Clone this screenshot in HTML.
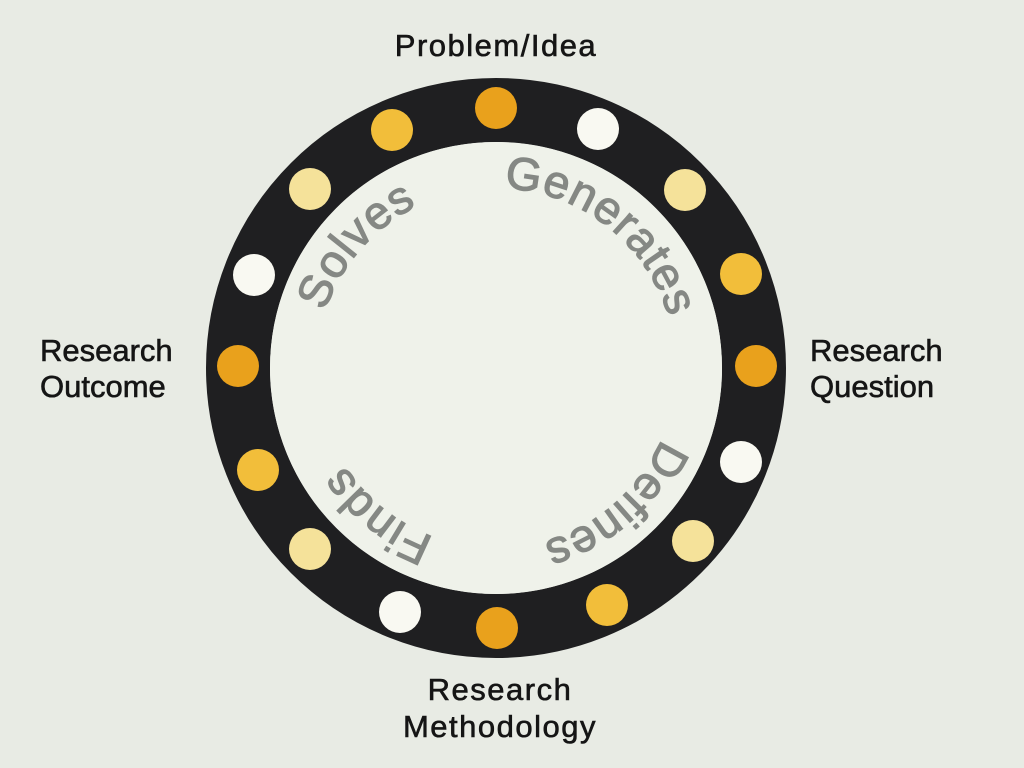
<!DOCTYPE html>
<html><head><meta charset="utf-8"><style>
html,body{margin:0;padding:0;background:#e8ebe4;}
svg{display:block}
</style></head><body>
<svg width="1024" height="768" viewBox="0 0 1024 768" xmlns="http://www.w3.org/2000/svg">
<rect width="1024" height="768" fill="#e8ebe4"/>
<circle cx="496" cy="368" r="258" fill="none" stroke="#1f1f21" stroke-width="64"/>
<circle cx="496" cy="368" r="226" fill="#eff2ea"/>
<defs>
<path id="c" d="M496,188 A180,180 0 1 1 495.99,188 Z"/>
</defs>
<g id="dots">
<circle cx="496" cy="108" r="21" fill="#e9a11c"/>
<circle cx="598" cy="129" r="21" fill="#f9f9f2"/>
<circle cx="685" cy="190" r="21" fill="#f5e29a"/>
<circle cx="741" cy="274" r="21" fill="#f2be3a"/>
<circle cx="756" cy="366" r="21" fill="#e9a11c"/>
<circle cx="741" cy="462" r="21" fill="#f9f9f2"/>
<circle cx="693" cy="541" r="21" fill="#f5e29a"/>
<circle cx="607" cy="605" r="21" fill="#f2be3a"/>
<circle cx="497" cy="628" r="21" fill="#e9a11c"/>
<circle cx="400" cy="612" r="21" fill="#f9f9f2"/>
<circle cx="310" cy="549" r="21" fill="#f5e29a"/>
<circle cx="258" cy="470" r="21" fill="#f2be3a"/>
<circle cx="238" cy="366" r="21" fill="#e9a11c"/>
<circle cx="254" cy="275" r="21" fill="#f9f9f2"/>
<circle cx="310" cy="189" r="21" fill="#f5e29a"/>
<circle cx="392" cy="130" r="21" fill="#f2be3a"/>
</g>
<g font-family="Liberation Sans, sans-serif" font-size="46" fill="#858884" stroke="#858884" stroke-width="1.2" letter-spacing="1">
<text><textPath href="#c" startOffset="8">Generates</textPath></text>
<text><textPath href="#c" startOffset="355">Defines</textPath></text>
<text><textPath href="#c" startOffset="628">Finds</textPath></text>
<text><textPath href="#c" startOffset="905">Solves</textPath></text>
</g>
<g font-family="Liberation Sans, sans-serif" font-size="31" fill="#151515" stroke="#151515" stroke-width="0.6" letter-spacing="1.5">
<text x="496" y="56" text-anchor="middle">Problem/Idea</text>
<text x="810" y="361" letter-spacing="0">Research</text>
<text x="810" y="397" letter-spacing="0">Question</text>
<text x="40" y="361" letter-spacing="0">Research</text>
<text x="40" y="397" letter-spacing="0">Outcome</text>
<text x="500" y="700" text-anchor="middle">Research</text>
<text x="500" y="737" text-anchor="middle">Methodology</text>
</g>
</svg>
</body></html>
